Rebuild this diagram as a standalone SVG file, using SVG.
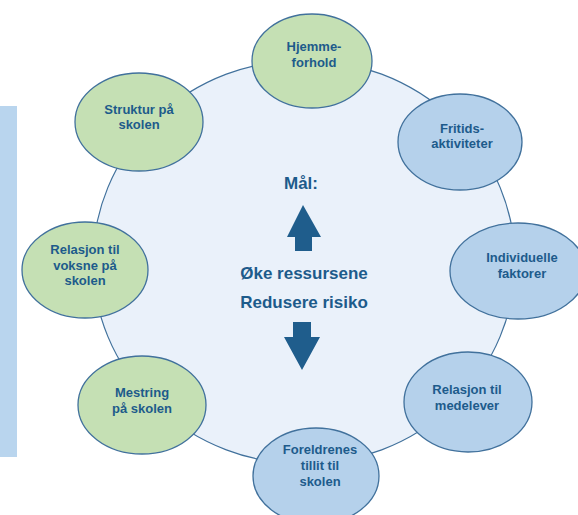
<svg xmlns="http://www.w3.org/2000/svg" width="578" height="515" viewBox="0 0 578 515">
<style>
.g{fill:#c5e0b4;stroke:#41719c;stroke-width:1.3}
.b{fill:#b5d1eb;stroke:#41719c;stroke-width:1.3}
.t{font-family:"Liberation Sans",Arial,sans-serif;font-weight:bold;font-size:13px;fill:#1d5b8b;text-anchor:middle}
.c{font-family:"Liberation Sans",Arial,sans-serif;font-weight:bold;font-size:17px;fill:#1d5b8b;text-anchor:middle}
.a{fill:#1f5d8c}
</style>
<rect x="0" y="106" width="17" height="351" fill="#b9d5ee"/>
<g id="center">
<ellipse cx="304" cy="262" rx="211" ry="202" fill="#eaf1fa" stroke="#41719c" stroke-width="1.2"/>
<text class="c" x="301" y="189">Mål:</text>
<text class="c" x="304" y="279">Øke ressursene</text>
<text class="c" x="304" y="308">Redusere risiko</text>
</g>
<g id="arrows">
<polygon class="a" points="303,205 321,237 312,237 312,251 295,251 295,237 287,237"/>
<polygon class="a" points="293,322 311,322 311,337 320,337 302,370 284,337 293,337"/>
</g>
<g id="hjemme"><ellipse class="g" cx="312" cy="61" rx="60" ry="47"/><text class="t" x="314" y="51">Hjemme-</text><text class="t" x="314" y="67">forhold</text></g>
<g id="fritid"><ellipse class="b" cx="460" cy="142" rx="62" ry="48"/><text class="t" x="462" y="133">Fritids-</text><text class="t" x="462" y="148">aktiviteter</text></g>
<g id="individuelle"><ellipse class="b" cx="518" cy="271" rx="68" ry="48"/><text class="t" x="522" y="262">Individuelle</text><text class="t" x="522" y="278">faktorer</text></g>
<g id="medelever"><ellipse class="b" cx="468" cy="402" rx="64" ry="50"/><text class="t" x="467" y="394">Relasjon til</text><text class="t" x="467" y="410">medelever</text></g>
<g id="foreldre"><ellipse class="b" cx="316" cy="476" rx="63" ry="48"/><text class="t" x="320" y="454">Foreldrenes</text><text class="t" x="320" y="470">tillit til</text><text class="t" x="320" y="486">skolen</text></g>
<g id="mestring"><ellipse class="g" cx="142" cy="405" rx="64" ry="49"/><text class="t" x="142" y="397">Mestring</text><text class="t" x="142" y="413">på skolen</text></g>
<g id="voksne"><ellipse class="g" cx="85" cy="270" rx="63" ry="48"/><text class="t" x="85" y="254">Relasjon til</text><text class="t" x="85" y="270">voksne på</text><text class="t" x="85" y="285">skolen</text></g>
<g id="struktur"><ellipse class="g" cx="139" cy="122" rx="64" ry="49"/><text class="t" x="139" y="114">Struktur på</text><text class="t" x="139" y="129">skolen</text></g>
</svg>
